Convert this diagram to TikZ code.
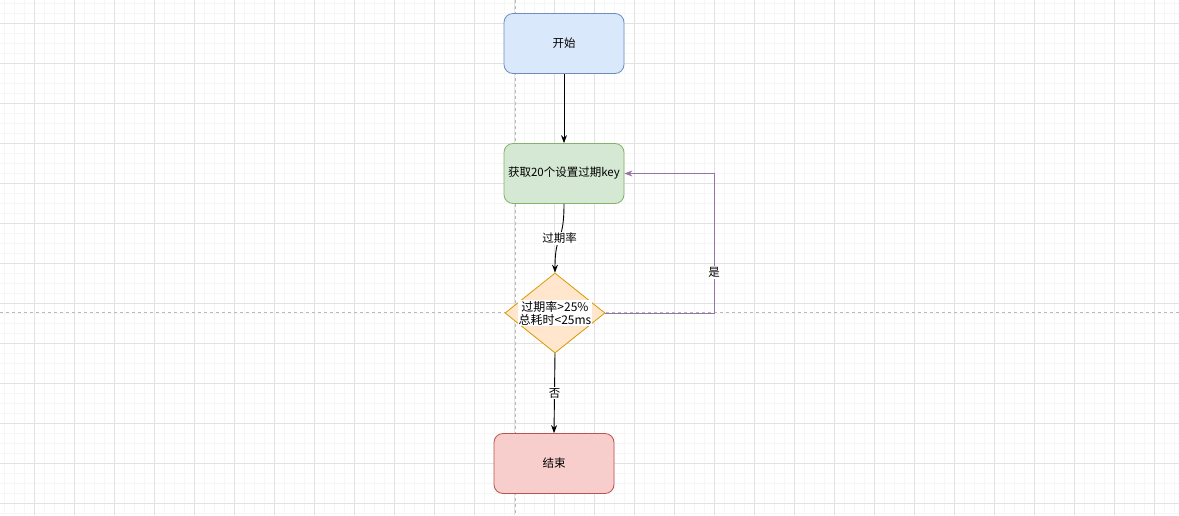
\documentclass[tikz,border=0pt]{standalone}
\usepackage{fontspec}
\setmainfont{Noto Sans CJK SC}
\usetikzlibrary{shapes.geometric,arrows.meta}
\definecolor{startfill}{HTML}{DAE8FC}
\definecolor{startline}{HTML}{6C8EBF}
\definecolor{getfill}{HTML}{D5E8D4}
\definecolor{getline}{HTML}{82B366}
\definecolor{testfill}{HTML}{FFE6CC}
\definecolor{testline}{HTML}{D79B00}
\definecolor{endfill}{HTML}{F8CECC}
\definecolor{endline}{HTML}{B85450}
\definecolor{loopline}{HTML}{9673A6}
\definecolor{minorgrid}{HTML}{F6F6F6}
\definecolor{majorgrid}{HTML}{E2E2E2}
\begin{document}
\begin{tikzpicture}[x=1pt, y=-1pt, font=\fontsize{11.5pt}{14pt}\selectfont,
  box/.style={draw, line width=0.8pt, rounded corners=9pt, minimum width=120pt, minimum height=60pt, inner sep=1pt},
  testbox/.style={diamond, draw=testline, fill=testfill, line width=0.8pt, aspect=1.25,
    minimum width=100pt, minimum height=80pt, inner sep=0pt},
  flow/.style={-{Stealth[length=8pt,width=6pt]}, line width=0.9pt},
  lbl/.style={fill=white, inner sep=1pt}]
  \useasboundingbox (0,0) rectangle (1179,515);
  % 背景の方眼
  \foreach \x in {4,14,...,1174} \draw[minorgrid, line width=0.6pt] (\x,0) -- (\x,515);
  \foreach \y in {3,13,...,513} \draw[minorgrid, line width=0.6pt] (0,\y) -- (1179,\y);
  \foreach \x in {34,74,...,1174} \draw[majorgrid, line width=0.8pt] (\x,0) -- (\x,515);
  \foreach \y in {23,63,...,503} \draw[majorgrid, line width=0.8pt] (0,\y) -- (1179,\y);
  % 補助線
  \draw[gray!55, dashed] (515,0) -- (515,515);
  \draw[gray!55, dashed] (0,312) -- (1179,312);
  % ノード
  \node[box, draw=startline, fill=startfill] (start) at (564,43.5) {开始};
  \node[box, draw=getline, fill=getfill] (getkey) at (564,173.5) {获取20个设置过期key};
  \node[testbox] (test) at (555,313) {};
  \node[lbl, align=center, font=\fontsize{12pt}{13pt}\selectfont] (testtxt) at (test.center) {过期率>25\%\\总耗时<25ms};
  \node[box, draw=endline, fill=endfill] (finish) at (554,463.5) {结束};
  % 接続
  \draw[flow] (start.south) -- (getkey.north);
  \draw[flow] (getkey.south) .. controls (564,245) and (555,232) .. (test.north)
    node[lbl, pos=0.5] (ratelbl) {过期率};
  \draw[flow] (test.south) -- (finish.north) node[lbl, midway] (nolbl) {否};
  \coordinate (loopa) at (714,313);
  \coordinate (loopb) at (714,173.5);
  \draw[loopline, line width=0.8pt, -{Stealth[length=8pt,width=6pt]}] (test.east) -- (loopa) -- (loopb)
    node[lbl, pos=0.29, text=black] (yeslbl) {是} -- (getkey.east);
\end{tikzpicture}
\end{document}
